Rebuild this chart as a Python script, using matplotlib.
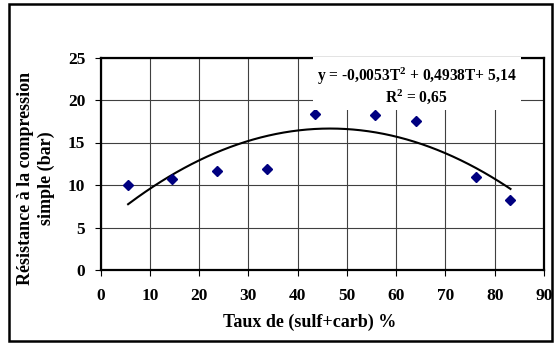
import numpy as np
import matplotlib
matplotlib.use("Agg")
import matplotlib.pyplot as plt
from matplotlib.patches import Rectangle

# Data
taux = [5.6, 14.5, 23.6, 33.7, 43.6, 55.7, 64.0, 76.2, 83.2]
resistance = [10.0, 10.7, 11.6, 11.9, 18.35, 18.2, 17.5, 10.9, 8.2]
fit_coeffs = [-0.0053, 0.4938, 5.14]  # y = a T^2 + b T + c
x_ticks = [0, 10, 20, 30, 40, 50, 60, 70, 80, 90]
y_ticks = [0, 5, 10, 15, 20, 25]

plt.rcParams['font.family'] = ['Liberation Serif', 'DejaVu Serif']
plt.rcParams['font.weight'] = 'bold'
plt.rcParams['mathtext.fontset'] = 'custom'
plt.rcParams['mathtext.rm'] = 'Liberation Serif:bold'
plt.rcParams['mathtext.bf'] = 'Liberation Serif:bold'
plt.rcParams['mathtext.it'] = 'Liberation Serif:bold'

W, H = 554, 343
fig = plt.figure(figsize=(W / 100, H / 100), dpi=100)

left, right, top, bottom = 100.5, 544, 57.5, 270
ax = fig.add_axes([left / W, 1 - bottom / H, (right - left) / W, (bottom - top) / H])

ax.set_xlim(0, 90)
ax.set_ylim(0, 25)
ax.set_xticks(x_ticks)
ax.set_yticks(y_ticks)
ax.grid(True, color='#404040', linewidth=0.8, zorder=0)
ax.set_axisbelow(True)

for s in ax.spines.values():
    s.set_linewidth(1.6)
    s.set_color('black')

ax.tick_params(direction='out', length=4, width=0.8, labelsize=12.5)
ax.tick_params(axis='x', pad=9)
ax.tick_params(axis='y', pad=7)
for lab in ax.get_xticklabels() + ax.get_yticklabels():
    lab.set_fontweight('bold')

# fitted curve
T = np.linspace(min(taux), max(taux), 200)
Y = np.polyval(fit_coeffs, T)
ax.plot(T, Y, color='black', linewidth=1.5, zorder=3)

ax.plot(taux, resistance, linestyle='none', marker='D', markersize=4.6,
        color='#000080', zorder=4)

# equation box
box_x0, box_x1 = 313, 521
box_y0, box_y1 = 57.5, 110
fig.add_artist(Rectangle((box_x0 / W, 1 - box_y1 / H), (box_x1 - box_x0) / W,
                         (box_y1 - box_y0) / H, transform=fig.transFigure,
                         facecolor='white', edgecolor='none', zorder=5))
fig.text(416.5 / W, 1 - 76 / H, r'y = -0,0053T$^{\mathbf{2}}$ + 0,4938T+ 5,14',
         ha='center', va='center', fontsize=11.2, fontweight='bold', zorder=6)
fig.text(416.5 / W, 1 - 97 / H, r'R$^{\mathbf{2}}$ = 0,65',
         ha='center', va='center', fontsize=11.2, fontweight='bold', zorder=6)

# axis labels
fig.text(310 / W, 1 - 322 / H, 'Taux de (sulf+carb) %', ha='center', va='center',
         fontsize=13, fontweight='bold')
fig.text(36 / W, 1 - 178 / H, 'Résistance à la compression\nsimple (bar)',
         ha='center', va='center', rotation=90, fontsize=13, fontweight='bold',
         linespacing=1.35)

# outer border
fig.add_artist(Rectangle((9 / W, 1 - 341 / H), (552 - 9) / W, (341 - 4) / H,
                         transform=fig.transFigure, facecolor='none',
                         edgecolor='black', linewidth=1.8))

fig.savefig('out.png', dpi=100)
